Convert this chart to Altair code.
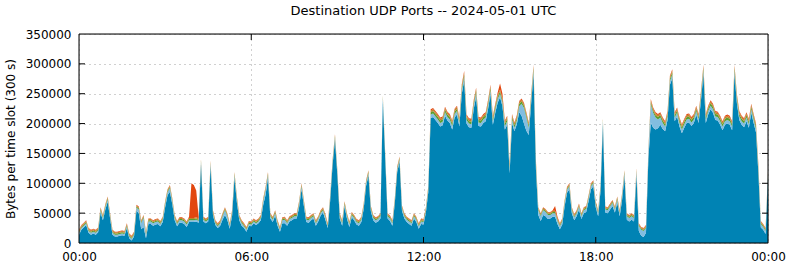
import altair as alt
import pandas as pd

# Total bytes per 300 s slot (thousands), slots 0..288
TOTAL = [
    22, 30, 34, 38, 25, 22, 24, 22, 26, 60,
    47, 65, 78, 50, 22, 19, 19, 20, 21, 20,
    33, 16, 12, 19, 64, 61, 38, 47, 19, 41,
    41, 38, 40, 41, 37, 44, 70, 90, 97, 75,
    47, 37, 43, 43, 41, 36, 44, 100, 97, 88,
    44, 141, 44, 41, 44, 138, 55, 38, 33, 38,
    50, 60, 50, 33, 55, 119, 78, 47, 38, 33,
    27, 37, 36, 41, 38, 41, 47, 75, 94, 119,
    50, 44, 55, 38, 27, 43, 44, 38, 45, 47,
    50, 50, 70, 100, 72, 44, 43, 47, 50, 38,
    45, 55, 60, 48, 33, 80, 140, 182, 122, 50,
    38, 70, 50, 36, 52, 47, 40, 38, 44, 66,
    105, 122, 62, 47, 43, 45, 50, 248, 150, 50,
    46, 38, 75, 128, 145, 63, 50, 44, 41, 38,
    50, 44, 33, 41, 40, 60, 95, 224, 226, 221,
    216, 210, 212, 228, 220, 216, 205, 225, 230, 210,
    266, 288, 215, 209, 208, 240, 260, 211, 210, 216,
    219, 240, 265, 213, 233, 252, 267, 250, 205, 213,
    132, 216, 202, 214, 238, 242, 235, 219, 202, 249,
    298, 138, 60, 50, 60, 57, 52, 52, 55, 62,
    44, 33, 41, 72, 94, 100, 60, 48, 55, 66,
    50, 60, 62, 80, 100, 105, 70, 55, 97, 209,
    61, 60, 66, 72, 61, 78, 55, 83, 122, 50,
    47, 50, 47, 125, 33, 27, 25, 30, 156, 241,
    227, 219, 216, 219, 210, 204, 221, 280, 291, 219,
    227, 210, 199, 208, 216, 217, 211, 216, 230, 216,
    255, 298, 216, 230, 239, 233, 221, 220, 213, 204,
    213, 215, 213, 204, 298, 249, 221, 213, 209, 219,
    208, 233, 216, 200, 130, 37, 32, 25, 120,
]

LIGHTBLUE = [
    3, 3, 3, 3, 3, 3, 3, 3, 3, 4,
    4, 4, 4, 4, 3, 3, 3, 3, 3, 3,
    3, 3, 3, 3, 5, 6, 10, 15, 6, 4,
    4, 4, 4, 4, 4, 4, 5, 5, 6, 5,
    4, 4, 4, 4, 4, 4, 3, 3, 3, 3,
    3, 4, 3, 3, 3, 4, 3, 3, 3, 4,
    6, 8, 6, 4, 4, 5, 5, 4, 4, 3,
    3, 3, 3, 3, 3, 3, 4, 6, 8, 5,
    4, 4, 4, 4, 3, 5, 6, 4, 4, 4,
    4, 4, 5, 5, 5, 4, 4, 4, 4, 4,
    4, 4, 4, 4, 3, 4, 4, 4, 4, 4,
    4, 4, 4, 4, 4, 4, 4, 4, 4, 4,
    4, 4, 4, 4, 4, 4, 4, 4, 4, 4,
    4, 4, 4, 4, 4, 4, 4, 4, 4, 4,
    4, 4, 4, 4, 4, 4, 5, 6, 6, 6,
    6, 6, 6, 6, 6, 6, 6, 6, 6, 6,
    6, 6, 6, 6, 6, 6, 6, 6, 6, 6,
    6, 6, 6, 6, 6, 6, 6, 6, 6, 6,
    6, 6, 6, 6, 10, 20, 26, 22, 12, 6,
    6, 6, 8, 8, 8, 7, 7, 6, 6, 6,
    5, 5, 5, 5, 5, 5, 5, 5, 5, 5,
    5, 5, 5, 5, 5, 5, 5, 5, 5, 6,
    5, 5, 5, 5, 5, 5, 5, 6, 6, 6,
    6, 6, 6, 6, 8, 10, 10, 8, 10, 30,
    25, 20, 15, 12, 10, 8, 6, 6, 6, 6,
    6, 6, 6, 6, 6, 6, 6, 6, 6, 6,
    6, 6, 6, 6, 6, 6, 6, 6, 6, 6,
    6, 6, 6, 6, 6, 6, 6, 6, 6, 6,
    6, 6, 6, 6, 6, 6, 5, 5, 5,
]

GREEN = [
    2, 2, 2, 2, 2, 2, 2, 2, 2, 2,
    2, 2, 2, 2, 2, 2, 2, 2, 2, 2,
    2, 2, 2, 2, 2, 2, 2, 2, 2, 2,
    2, 2, 2, 2, 2, 2, 2, 2, 2, 2,
    2, 2, 2, 2, 2, 2, 2, 2, 2, 2,
    2, 2, 2, 2, 2, 2, 2, 2, 2, 2,
    2, 2, 2, 2, 2, 2, 2, 2, 2, 2,
    2, 2, 2, 2, 2, 2, 2, 2, 2, 2,
    2, 2, 2, 2, 2, 2, 2, 2, 2, 2,
    2, 2, 2, 2, 2, 2, 2, 2, 2, 2,
    2, 2, 2, 2, 2, 2, 2, 2, 2, 2,
    2, 2, 2, 2, 2, 2, 2, 2, 2, 2,
    2, 2, 2, 2, 2, 2, 2, 2, 2, 2,
    2, 2, 2, 2, 2, 2, 2, 2, 2, 2,
    2, 2, 2, 2, 2, 2, 2, 4, 4, 4,
    4, 4, 4, 4, 4, 4, 4, 4, 4, 4,
    4, 4, 4, 4, 4, 4, 4, 4, 4, 4,
    4, 4, 4, 4, 4, 4, 4, 4, 4, 4,
    4, 4, 4, 4, 4, 4, 4, 4, 4, 4,
    4, 4, 2, 2, 2, 2, 2, 2, 2, 2,
    2, 2, 2, 2, 2, 2, 2, 2, 2, 2,
    2, 2, 2, 2, 2, 2, 2, 2, 2, 2,
    2, 2, 2, 2, 2, 2, 2, 2, 2, 2,
    2, 2, 2, 2, 2, 2, 2, 2, 2, 4,
    4, 4, 4, 4, 4, 4, 4, 4, 4, 4,
    4, 4, 4, 4, 4, 4, 4, 4, 4, 4,
    4, 4, 4, 4, 4, 4, 4, 4, 4, 4,
    4, 4, 4, 4, 4, 4, 4, 4, 4, 4,
    4, 4, 4, 4, 4, 2, 2, 2, 2,
]

ORANGE = [
    2, 2, 2, 2, 2, 2, 2, 2, 2, 2,
    2, 2, 2, 2, 2, 2, 2, 2, 2, 2,
    2, 2, 2, 2, 2, 2, 2, 2, 2, 2,
    2, 2, 2, 2, 2, 2, 2, 2, 2, 2,
    2, 2, 2, 2, 2, 2, 2, 2, 2, 2,
    2, 2, 2, 2, 2, 2, 2, 2, 2, 2,
    2, 2, 2, 2, 2, 2, 2, 2, 2, 2,
    2, 2, 2, 2, 2, 2, 2, 2, 2, 2,
    2, 2, 2, 2, 2, 2, 2, 2, 2, 2,
    2, 2, 2, 2, 2, 2, 2, 2, 2, 2,
    2, 2, 2, 2, 2, 2, 2, 2, 2, 2,
    2, 2, 2, 2, 2, 2, 2, 2, 2, 2,
    2, 2, 2, 2, 2, 2, 2, 2, 2, 2,
    2, 2, 2, 2, 2, 2, 2, 2, 2, 2,
    2, 2, 2, 2, 2, 2, 2, 3, 3, 3,
    3, 3, 3, 3, 3, 3, 3, 3, 3, 3,
    3, 3, 3, 3, 3, 3, 3, 3, 3, 3,
    3, 3, 3, 3, 3, 3, 3, 3, 3, 3,
    3, 3, 3, 3, 3, 3, 3, 3, 3, 3,
    3, 3, 2, 2, 2, 2, 2, 2, 2, 2,
    2, 2, 2, 2, 2, 2, 2, 2, 2, 2,
    2, 2, 2, 2, 2, 2, 2, 2, 2, 2,
    2, 2, 2, 2, 2, 2, 2, 2, 2, 2,
    2, 2, 2, 2, 2, 2, 2, 2, 2, 3,
    3, 3, 3, 3, 3, 3, 3, 3, 3, 3,
    3, 3, 3, 3, 3, 3, 3, 3, 3, 3,
    3, 3, 3, 3, 3, 3, 3, 3, 3, 3,
    3, 3, 3, 3, 3, 3, 3, 3, 3, 3,
    3, 3, 3, 3, 3, 2, 2, 2, 2,
]

RED = [
    1, 1, 1, 1, 1, 1, 1, 1, 1, 1,
    1, 1, 1, 1, 1, 1, 1, 1, 1, 1,
    1, 1, 1, 1, 1, 1, 1, 1, 1, 1,
    1, 1, 1, 1, 1, 1, 1, 1, 1, 1,
    1, 1, 1, 1, 1, 1, 2, 58, 55, 45,
    3, 1, 1, 1, 1, 1, 1, 1, 1, 1,
    1, 1, 1, 1, 1, 1, 1, 1, 1, 1,
    1, 1, 1, 1, 1, 1, 1, 1, 1, 1,
    1, 1, 1, 1, 1, 1, 1, 1, 1, 1,
    1, 1, 1, 1, 1, 1, 1, 1, 1, 1,
    1, 1, 1, 1, 1, 1, 1, 1, 1, 1,
    1, 1, 1, 1, 1, 1, 1, 1, 1, 1,
    1, 1, 1, 1, 1, 1, 1, 1, 1, 1,
    1, 1, 1, 1, 1, 1, 1, 1, 1, 1,
    1, 1, 1, 1, 1, 1, 1, 2, 2, 2,
    2, 2, 2, 2, 2, 2, 2, 2, 2, 2,
    3, 3, 2, 2, 2, 2, 2, 2, 2, 2,
    2, 2, 2, 2, 2, 4, 10, 8, 2, 2,
    2, 2, 2, 2, 2, 2, 2, 2, 2, 2,
    2, 2, 1, 1, 1, 1, 1, 1, 1, 8,
    3, 1, 1, 1, 1, 1, 1, 1, 1, 1,
    1, 1, 1, 1, 1, 1, 1, 1, 1, 1,
    1, 1, 1, 1, 1, 1, 1, 1, 1, 1,
    1, 1, 1, 1, 1, 1, 1, 1, 1, 2,
    2, 2, 2, 2, 2, 2, 2, 2, 2, 2,
    2, 2, 2, 2, 2, 2, 2, 2, 2, 2,
    2, 2, 2, 2, 2, 2, 2, 2, 2, 2,
    2, 2, 2, 2, 2, 2, 2, 2, 2, 2,
    2, 2, 2, 2, 2, 1, 1, 1, 1,
]

SERIES = ["port 1", "port 2", "port 3", "port 4", "port 5"]
COLORS = ["#0083b4", "#82bde0", "#5a9e2f", "#c0862a", "#e2470f"]
X_TICKS = [0, 6, 12, 18, 24]
Y_TICKS = [0, 50000, 100000, 150000, 200000, 250000, 300000, 350000]

assert len(TOTAL) == len(LIGHTBLUE) == len(GREEN) == len(ORANGE) == len(RED) == 289

rows = []
for i in range(len(TOTAL)):
    hour = i * 5 / 60
    thin = [LIGHTBLUE[i], GREEN[i], ORANGE[i], RED[i]]
    blue = max(TOTAL[i] - sum(thin), 0)
    parts = [blue] + thin
    for k, v in enumerate(parts):
        rows.append({"hour": hour, "series": SERIES[k], "ord": k, "value": v * 1000})
df = pd.DataFrame(rows)

W, H = 689, 209
FONT = "DejaVu Sans"

x_scale = alt.Scale(domain=[0, 24], nice=False, zero=False)
y_scale = alt.Scale(domain=[0, 350000], nice=False)

label_expr = "(datum.value % 24 < 10 ? '0' : '') + (datum.value % 24) + ':00'"

x_axis = alt.Axis(values=X_TICKS, labelExpr=label_expr, title=None,
                  grid=True, gridDash=[1, 4], gridColor="#a0a0a0",
                  ticks=False, domain=False, labelPadding=8,
                  labelFlush=False, labelOverlap=False,
                  labelFontSize=12, labelColor="black", labelFont=FONT)
y_axis = alt.Axis(values=Y_TICKS, format="d", title="Bytes per time slot (300 s)",
                  grid=True, gridDash=[1, 4], gridColor="#a0a0a0",
                  ticks=False, domain=False, labelPadding=8,
                  labelFlush=False, labelOverlap=False,
                  labelFontSize=12, labelColor="black", labelFont=FONT,
                  titleFontSize=12, titleFont=FONT, titleFontWeight="normal",
                  titleColor="black", titlePadding=8)

areas = alt.Chart(df).mark_area(interpolate="linear").encode(
    x=alt.X("hour:Q", scale=x_scale, axis=x_axis),
    y=alt.Y("value:Q", stack="zero", scale=y_scale, axis=y_axis),
    color=alt.Color("series:N", scale=alt.Scale(domain=SERIES, range=COLORS), legend=None),
    order=alt.Order("ord:Q", sort="ascending"),
)

ytick_df = pd.DataFrame({"value": Y_TICKS[1:-1]})
xtick_df = pd.DataFrame({"hour": X_TICKS[1:-1]})
frame_df = pd.DataFrame({"hour": [0], "hour2": [24], "value": [0], "value2": [350000]})

ytl = alt.Chart(ytick_df).mark_rule(color="black", strokeWidth=1).encode(
    y=alt.Y("value:Q", scale=y_scale, axis=y_axis), x=alt.value(0), x2=alt.value(6))
ytr = alt.Chart(ytick_df).mark_rule(color="black", strokeWidth=1).encode(
    y=alt.Y("value:Q", scale=y_scale, axis=y_axis), x=alt.value(W - 6), x2=alt.value(W))
xtb = alt.Chart(xtick_df).mark_rule(color="black", strokeWidth=1).encode(
    x=alt.X("hour:Q", scale=x_scale, axis=x_axis), y=alt.value(H - 6), y2=alt.value(H))
xtt = alt.Chart(xtick_df).mark_rule(color="black", strokeWidth=1).encode(
    x=alt.X("hour:Q", scale=x_scale, axis=x_axis), y=alt.value(0), y2=alt.value(6))
frame = alt.Chart(frame_df).mark_rect(fill=None, fillOpacity=0, stroke="black", strokeWidth=1).encode(
    x=alt.X("hour:Q", scale=x_scale, axis=x_axis), x2="hour2:Q",
    y=alt.Y("value:Q", scale=y_scale, axis=y_axis), y2="value2:Q")

chart = alt.layer(areas, ytl, ytr, xtb, xtt, frame).properties(
    width=W, height=H,
    title=alt.TitleParams("Destination UDP Ports -- 2024-05-01 UTC", fontSize=13,
                          fontWeight="normal", font=FONT, color="black",
                          anchor="middle", frame="group", offset=10),
    padding={"left": 79, "top": 34, "right": 22, "bottom": 24},
    autosize=alt.AutoSizeParams(type="none"),
).configure_view(strokeWidth=0).configure(background="white")

chart.save("out.html", embed_options={"renderer": "svg", "actions": False})
